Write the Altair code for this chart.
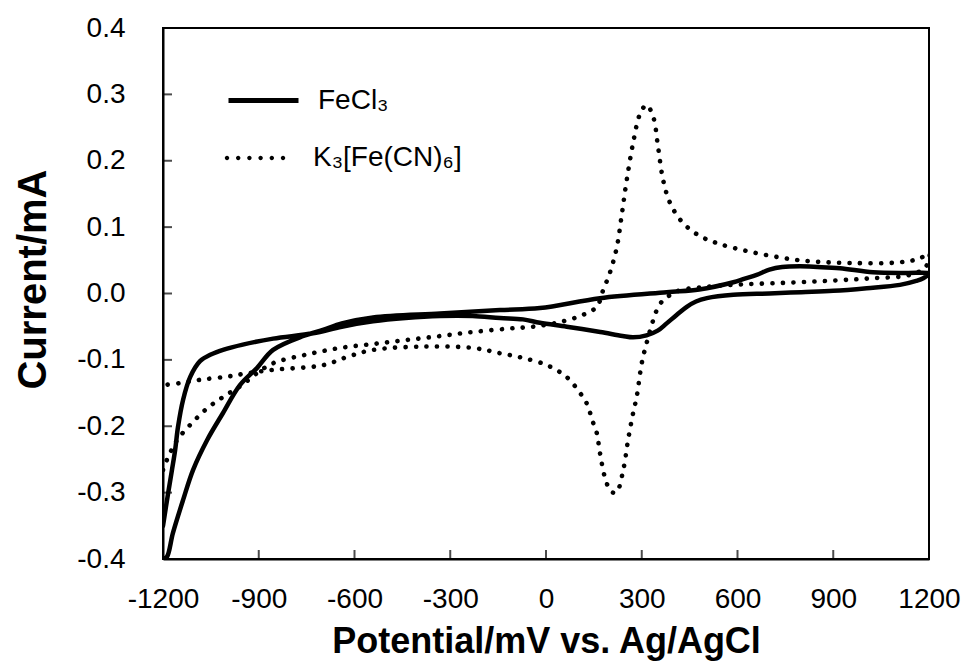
import altair as alt
import pandas as pd

# ---- data ----
fecl3_potential = [-1200, -1184, -1172, -1162, -1153, -1137, -1115, -1084, -1050, -1012, -950, -855,
                   -730, -640, -542, -440, -332, -230, -144, -72, -19, 65, 170, 240, 273, 315, 350,
                   378, 410, 441, 470, 504, 587, 700, 800, 900, 1005, 1109, 1160, 1182, 1200,
                   1194, 1131, 1025, 921, 850, 796, 740, 700, 660, 620, 587, 480, 378, 169, -19,
                   -144, -332, -542, -640, -699, -760, -855, -905, -959, -1012, -1062, -1106,
                   -1137, -1169, -1188, -1200]
fecl3_current = [-0.350, -0.301, -0.266, -0.236, -0.201, -0.160, -0.126, -0.102, -0.092, -0.085, -0.077,
                 -0.068, -0.060, -0.050, -0.042, -0.037, -0.034, -0.034, -0.037, -0.039, -0.044, -0.050,
                 -0.058, -0.064, -0.066, -0.063, -0.056, -0.045, -0.032, -0.020, -0.012, -0.007, -0.002,
                 0.000, 0.002, 0.004, 0.008, 0.013, 0.019, 0.023, 0.030,
                 0.031, 0.031, 0.032, 0.038, 0.040, 0.041, 0.040, 0.036, 0.028, 0.022, 0.017, 0.006,
                 0.002, -0.007, -0.022, -0.025, -0.030, -0.036, -0.045, -0.055, -0.064, -0.085, -0.112,
                 -0.138, -0.180, -0.221, -0.266, -0.311, -0.361, -0.397, -0.400]

fecn_potential = [-1200, -1188, -1156, -1109, -1059, -1012, -953, -900, -855, -750, -645, -540, -436,
                  -330, -229, -120, -41, 44, 117, 159, 179, 200, 222, 238, 253, 273, 295, 315, 336,
                  351, 367, 389, 426, 477, 535, 639, 796, 952, 1109, 1172, 1200,
                  1198, 1180, 1131, 1025, 921, 796, 586, 483, 420, 390, 367, 350, 336, 315, 300, 284,
                  273, 257, 242, 222, 210, 200, 185, 169, 159, 148, 127, 107, 65, 3, -82, -144, -229,
                  -385, -542, -620, -699, -855, -934, -996, -1084, -1147, -1200]
fecn_current = [-0.266, -0.251, -0.221, -0.195, -0.172, -0.156, -0.138, -0.118, -0.105, -0.092, -0.082,
                -0.076, -0.070, -0.064, -0.058, -0.053, -0.050, -0.043, -0.032, -0.020, 0.005, 0.031,
                0.070, 0.121, 0.171, 0.227, 0.271, 0.284, 0.266, 0.221, 0.171, 0.136, 0.108, 0.088,
                0.076, 0.063, 0.050, 0.046, 0.047, 0.053, 0.061,
                0.047, 0.036, 0.027, 0.023, 0.020, 0.017, 0.013, 0.009, 0.005, -0.002, -0.010, -0.022,
                -0.040, -0.075, -0.105, -0.156, -0.180, -0.221, -0.266, -0.299, -0.300, -0.296, -0.278,
                -0.240, -0.210, -0.195, -0.165, -0.150, -0.126, -0.108, -0.096, -0.090, -0.082, -0.080,
                -0.085, -0.095, -0.108, -0.115, -0.120, -0.125, -0.130, -0.135, -0.138]

series_names = ["FeCl\u2083", "K\u2083[Fe(CN)\u2086]"]
x_ticks = [-1200, -900, -600, -300, 0, 300, 600, 900, 1200]
y_ticks = [-0.4, -0.3, -0.2, -0.1, 0.0, 0.1, 0.2, 0.3, 0.4]

FONT = "Liberation Sans"

df1 = pd.DataFrame({"potential": fecl3_potential, "current": fecl3_current,
                    "series": series_names[0]})
df1["order"] = range(len(df1))
df2 = pd.DataFrame({"potential": fecn_potential, "current": fecn_current,
                    "series": series_names[1]})
df2["order"] = range(len(df2))

xt = pd.DataFrame({"potential": x_ticks[1:-1], "current": y_ticks[0]})
yt = pd.DataFrame({"potential": x_ticks[0], "current": y_ticks[1:-1]})

x_enc = alt.X("potential:Q",
              scale=alt.Scale(domain=[x_ticks[0], x_ticks[-1]], nice=False, zero=False),
              axis=alt.Axis(values=x_ticks, title="Potential/mV vs. Ag/AgCl",
                            labelExpr="replace(format(datum.value, 'd'), '\u2212', '-')",
                            ticks=False, tickSize=0, grid=False, labelPadding=48,
                            labelBaseline="alphabetic", titleBaseline="alphabetic", titleY=93,
                            titleFontSize=36, labelFlush=False))
y_enc = alt.Y("current:Q",
              scale=alt.Scale(domain=[y_ticks[0], y_ticks[-1]], nice=False, zero=False),
              axis=alt.Axis(values=y_ticks, title="Current/mA",
                            labelExpr="replace(format(datum.value, '.1f'), '\u2212', '-')",
                            ticks=False, tickSize=0, grid=False, labelPadding=38,
                            titleBaseline="alphabetic", titleX=-118, titleY=251,
                            titleFontSize=40, labelFlush=False))

dots = [-0.971, -0.651, -0.331, -0.011, 0.309, 0.629]
r = 0.063
dot_path = "".join(
    f"M{c - r:.3f},0A{r},{r} 0 1,1 {c + r:.3f},0A{r},{r} 0 1,1 {c - r:.3f},0Z" for c in dots)

solid = alt.Chart(df1).mark_line(
    strokeWidth=4.5, interpolate="catmull-rom", clip=True, strokeCap="round", strokeJoin="round"
).encode(
    x=x_enc, y=y_enc, order="order:Q",
    color=alt.Color("series:N", scale=alt.Scale(domain=[series_names[0]], range=["black"]),
                    legend=alt.Legend(orient="none", legendX=63, legendY=35, title=None,
                                      symbolType="stroke", symbolSize=4900,
                                      symbolStrokeWidth=5, labelOffset=17, padding=0,
                                      labelFont=FONT, labelFontSize=28, labelColor="black",
                                      labelLimit=400))
)

dotted = alt.Chart(df2).mark_line(
    strokeWidth=4.6, interpolate="catmull-rom", clip=True, strokeCap="round",
    strokeDash=[0.1, 10.4]
).encode(
    x=x_enc, y=y_enc, order="order:Q",
    color=alt.Color("series:N", scale=alt.Scale(domain=[series_names[1]], range=["black"]),
                    legend=alt.Legend(orient="none", legendX=63, legendY=95, title=None,
                                      symbolType=dot_path, symbolSize=4900,
                                      symbolFillColor="black", symbolStrokeWidth=0,
                                      labelOffset=17, padding=0,
                                      labelFont=FONT, labelFontSize=28, labelColor="black",
                                      labelLimit=400))
)

xticks_layer = alt.Chart(xt).mark_tick(orient="vertical", size=9, thickness=2,
                                       yOffset=-4.5, color="black").encode(x=x_enc, y=y_enc)
yticks_layer = alt.Chart(yt).mark_tick(orient="horizontal", size=9, thickness=2,
                                       xOffset=4.5, color="black").encode(x=x_enc, y=y_enc)

chart = alt.layer(xticks_layer, yticks_layer, solid, dotted).resolve_scale(
    color="independent"
).properties(
    width=766, height=531,
    autosize=alt.AutoSizeParams(type="none"),
    padding={"left": 163, "top": 28, "right": 39, "bottom": 102},
    background="white",
).configure_view(
    stroke="black", strokeWidth=2
).configure_axis(
    domainColor="black", domainWidth=2,
    labelFont=FONT, labelFontSize=28, labelColor="black",
    titleFont=FONT, titleFontWeight="bold", titleColor="black",
)

chart.save("out.html", embed_options={"renderer": "svg", "actions": False})
